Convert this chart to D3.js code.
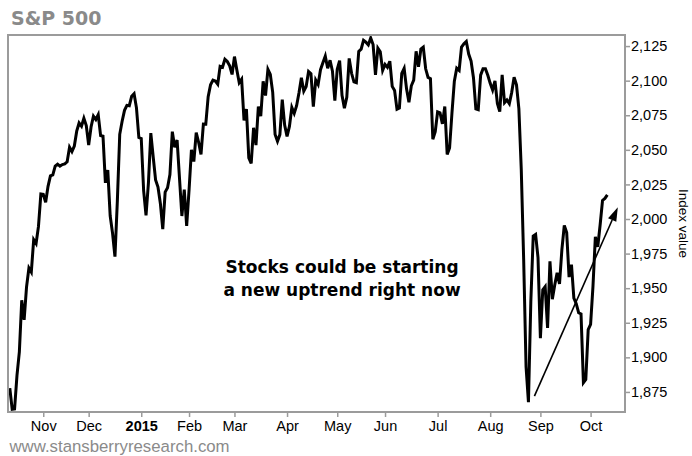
<!DOCTYPE html>
<html>
<head>
<meta charset="utf-8">
<script src="https://cdn.jsdelivr.net/npm/d3@7"></script>
<style>
  html, body { margin: 0; padding: 0; background: #fff; }
  svg { display: block; }
</style>
</head>
<body>
<svg id="chart" width="692" height="456"></svg>
<script>
// S&P 500 daily closes, one entry per trading session
const sessions = [
  "2014-10-14","2014-10-15","2014-10-16","2014-10-17","2014-10-20","2014-10-21","2014-10-22","2014-10-23","2014-10-24","2014-10-27","2014-10-28","2014-10-29","2014-10-30","2014-10-31",
  "2014-11-03","2014-11-04","2014-11-05","2014-11-06","2014-11-07","2014-11-10","2014-11-11","2014-11-12","2014-11-13","2014-11-14","2014-11-17","2014-11-18","2014-11-19","2014-11-20","2014-11-21","2014-11-24","2014-11-25","2014-11-26","2014-11-28",
  "2014-12-01","2014-12-02","2014-12-03","2014-12-04","2014-12-05","2014-12-08","2014-12-09","2014-12-10","2014-12-11","2014-12-12","2014-12-15","2014-12-16","2014-12-17","2014-12-18","2014-12-19","2014-12-22","2014-12-23","2014-12-24","2014-12-26","2014-12-29","2014-12-30","2014-12-31",
  "2015-01-02","2015-01-05","2015-01-06","2015-01-07","2015-01-08","2015-01-09","2015-01-12","2015-01-13","2015-01-14","2015-01-15","2015-01-16","2015-01-20","2015-01-21","2015-01-22","2015-01-23","2015-01-26","2015-01-27","2015-01-28","2015-01-29","2015-01-30",
  "2015-02-02","2015-02-03","2015-02-04","2015-02-05","2015-02-06","2015-02-09","2015-02-10","2015-02-11","2015-02-12","2015-02-13","2015-02-17","2015-02-18","2015-02-19","2015-02-20","2015-02-23","2015-02-24","2015-02-25","2015-02-26","2015-02-27",
  "2015-03-02","2015-03-03","2015-03-04","2015-03-05","2015-03-06","2015-03-09","2015-03-10","2015-03-11","2015-03-12","2015-03-13","2015-03-16","2015-03-17","2015-03-18","2015-03-19","2015-03-20","2015-03-23","2015-03-24","2015-03-25","2015-03-26","2015-03-27","2015-03-30","2015-03-31",
  "2015-04-01","2015-04-02","2015-04-06","2015-04-07","2015-04-08","2015-04-09","2015-04-10","2015-04-13","2015-04-14","2015-04-15","2015-04-16","2015-04-17","2015-04-20","2015-04-21","2015-04-22","2015-04-23","2015-04-24","2015-04-27","2015-04-28","2015-04-29","2015-04-30",
  "2015-05-01","2015-05-04","2015-05-05","2015-05-06","2015-05-07","2015-05-08","2015-05-11","2015-05-12","2015-05-13","2015-05-14","2015-05-15","2015-05-18","2015-05-19","2015-05-20","2015-05-21","2015-05-22","2015-05-26","2015-05-27","2015-05-28","2015-05-29",
  "2015-06-01","2015-06-02","2015-06-03","2015-06-04","2015-06-05","2015-06-08","2015-06-09","2015-06-10","2015-06-11","2015-06-12","2015-06-15","2015-06-16","2015-06-17","2015-06-18","2015-06-19","2015-06-22","2015-06-23","2015-06-24","2015-06-25","2015-06-26","2015-06-29","2015-06-30",
  "2015-07-01","2015-07-02","2015-07-06","2015-07-07","2015-07-08","2015-07-09","2015-07-10","2015-07-13","2015-07-14","2015-07-15","2015-07-16","2015-07-17","2015-07-20","2015-07-21","2015-07-22","2015-07-23","2015-07-24","2015-07-27","2015-07-28","2015-07-29","2015-07-30","2015-07-31",
  "2015-08-03","2015-08-04","2015-08-05","2015-08-06","2015-08-07","2015-08-10","2015-08-11","2015-08-12","2015-08-13","2015-08-14","2015-08-17","2015-08-18","2015-08-19","2015-08-20","2015-08-21","2015-08-24","2015-08-25","2015-08-26","2015-08-27","2015-08-28","2015-08-31",
  "2015-09-01","2015-09-02","2015-09-03","2015-09-04","2015-09-08","2015-09-09","2015-09-10","2015-09-11","2015-09-14","2015-09-15","2015-09-16","2015-09-17","2015-09-18","2015-09-21","2015-09-22","2015-09-23","2015-09-24","2015-09-25","2015-09-28","2015-09-29","2015-09-30",
  "2015-10-01","2015-10-02","2015-10-05","2015-10-06","2015-10-07","2015-10-08","2015-10-09","2015-10-12"
];

const closes = [
  1877.70,1862.49,1862.76,1886.76,1904.01,1941.28,1927.11,1950.82,1964.58,1961.63,1985.05,1982.30,1994.65,2018.05,
  2017.81,2012.10,2023.57,2031.21,2031.92,2038.26,2039.68,2038.25,2039.33,2039.82,2041.32,2051.80,2048.72,2052.75,2063.50,2069.41,2067.03,2072.83,2067.56,
  2053.44,2066.55,2074.33,2071.92,2075.37,2060.31,2059.82,2026.14,2035.33,2002.33,1989.63,1972.74,2012.89,2061.23,2070.65,2078.54,2082.17,2081.88,2088.77,2090.57,2080.35,2058.90,
  2058.20,2020.58,2002.61,2025.90,2062.14,2044.81,2028.26,2023.03,2011.27,1992.67,2019.42,2022.55,2032.12,2063.15,2051.82,2057.09,2029.55,2002.16,2021.25,1994.99,
  2020.85,2050.03,2041.51,2062.52,2055.47,2046.74,2068.59,2068.53,2088.48,2096.99,2100.34,2099.68,2097.45,2110.30,2109.66,2115.48,2113.86,2110.74,2104.50,
  2117.39,2107.78,2098.53,2101.04,2071.26,2079.43,2044.16,2040.24,2065.95,2053.40,2081.19,2074.28,2099.50,2089.27,2108.10,2104.42,2091.50,2061.05,2056.15,2061.02,2086.24,2067.89,
  2059.69,2066.96,2080.62,2076.33,2081.90,2091.18,2102.06,2092.43,2095.84,2106.63,2104.99,2081.18,2100.40,2097.29,2107.96,2112.93,2117.69,2108.92,2114.76,2106.85,2085.51,
  2108.29,2114.49,2089.46,2080.15,2088.00,2116.10,2105.33,2099.12,2098.48,2121.10,2122.73,2129.20,2127.83,2125.85,2130.82,2126.06,2104.20,2123.48,2120.79,2107.39,
  2111.73,2109.60,2114.07,2095.84,2092.83,2079.28,2080.15,2105.20,2108.86,2094.11,2084.43,2096.29,2100.44,2121.24,2109.99,2122.85,2124.20,2108.58,2102.31,2101.49,2057.64,2063.11,
  2077.42,2076.78,2068.76,2081.34,2046.68,2051.31,2076.62,2099.60,2108.95,2107.40,2124.29,2126.64,2128.28,2119.21,2114.15,2102.15,2079.65,2079.00,2104.00,2108.57,2108.63,2103.84,
  2098.04,2093.32,2099.84,2083.56,2077.57,2104.18,2084.07,2086.05,2083.39,2091.54,2102.44,2096.92,2079.61,2035.73,1970.89,1893.21,1867.61,1940.51,1987.66,1988.87,1972.18,
  1913.85,1948.86,1951.13,1921.22,1969.41,1942.04,1952.29,1961.05,1953.03,1978.09,1995.31,1990.20,1958.03,1966.97,1942.74,1938.76,1932.24,1931.34,1881.77,1884.09,1920.03,
  1923.82,1951.36,1987.05,1979.92,1995.83,2013.43,2014.89,2017.46
];

// Month ticks sit on the first session of each month
const monthStarts = ["2014-11-03","2014-12-01","2015-01-02","2015-02-02","2015-03-02","2015-04-01","2015-05-01","2015-06-01","2015-07-01","2015-08-03","2015-09-01","2015-10-01"];
const monthLabels = ["Nov","Dec","2015","Feb","Mar","Apr","May","Jun","Jul","Aug","Sep","Oct"];
const yTicks = [1875, 1900, 1925, 1950, 1975, 2000, 2025, 2050, 2075, 2100, 2125];

// Trend arrow, in (session index, index value)
const arrowFrom = [219.5, 1872];
const arrowTo = [254.4, 2008.5];

const noteLines = ["Stocks could be starting", "a new uptrend right now"];
const noteAnchor = [139, 1961];

const svg = d3.select("#chart");
const plot = { left: 8, top: 35, right: 625, bottom: 412 };
const frameColor = "#9b9b9b";

const x = d3.scaleLinear().domain([-0.75, 257.4]).range([plot.left, plot.right]);
const y = d3.scaleLinear().domain([1860.5, 2133]).range([plot.bottom, plot.top]);

const series = sessions.map((d, i) => ({ i, date: d, v: closes[i] }));

// Price line
svg.append("defs").append("clipPath").attr("id", "plotClip")
  .append("rect")
  .attr("x", plot.left).attr("y", plot.top)
  .attr("width", plot.right - plot.left).attr("height", plot.bottom - plot.top);

svg.append("path")
  .datum(series)
  .attr("clip-path", "url(#plotClip)")
  .attr("fill", "none")
  .attr("stroke", "#000")
  .attr("stroke-width", 3)
  .attr("stroke-linejoin", "miter")
  .attr("d", d3.line().x(d => x(d.i)).y(d => y(d.v)));

// Frame
svg.append("rect")
  .attr("x", plot.left).attr("y", plot.top)
  .attr("width", plot.right - plot.left).attr("height", plot.bottom - plot.top)
  .attr("fill", "none").attr("stroke", frameColor).attr("stroke-width", 2);

// Bottom axis: month ticks
const tickIdx = monthStarts.map(m => sessions.indexOf(m));
const xAxis = d3.axisBottom(x).tickValues(tickIdx).tickSize(5).tickPadding(4)
  .tickFormat((d, k) => monthLabels[k]);
const gx = svg.append("g").attr("transform", `translate(0,${plot.bottom})`).call(xAxis);
gx.select(".domain").remove();
gx.selectAll(".tick line").attr("stroke", frameColor).attr("stroke-width", 1.5);
gx.selectAll(".tick text")
  .attr("fill", "#000")
  .style("font-family", "'Liberation Sans', Arial, sans-serif")
  .style("font-size", "14.5px")
  .style("font-weight", d => monthLabels[tickIdx.indexOf(d)] === "2015" ? "bold" : "normal");

// Right axis: index value
const yAxis = d3.axisRight(y).tickValues(yTicks).tickSize(5).tickPadding(1)
  .tickFormat(d3.format(","));
const gy = svg.append("g").attr("transform", `translate(${plot.right},0)`).call(yAxis);
gy.select(".domain").remove();
gy.selectAll(".tick line").attr("stroke", frameColor).attr("stroke-width", 1.5);
gy.selectAll(".tick text")
  .attr("fill", "#000")
  .style("font-family", "'Liberation Sans', Arial, sans-serif")
  .style("font-size", "14.5px");

svg.append("text")
  .attr("transform", `translate(679,${(plot.top + plot.bottom) / 2}) rotate(90)`)
  .attr("text-anchor", "middle")
  .style("font-family", "'Liberation Sans', Arial, sans-serif")
  .style("font-size", "13.5px")
  .attr("fill", "#000")
  .text("Index value");

// Title and source line
svg.append("text")
  .attr("x", 11).attr("y", 25)
  .style("font-family", "'DejaVu Sans', Verdana, sans-serif")
  .style("font-weight", "bold")
  .style("font-size", "19px")
  .attr("fill", "#8a8a8a")
  .text("S&P 500");

svg.append("text")
  .attr("x", 9.5).attr("y", 452)
  .style("font-family", "'Liberation Sans', Arial, sans-serif")
  .style("font-size", "16.8px")
  .attr("fill", "#8a8a8a")
  .text("www.stansberryresearch.com");

// Annotation
const note = svg.append("text")
  .attr("text-anchor", "middle")
  .style("font-family", "'DejaVu Sans', Verdana, sans-serif")
  .style("font-weight", "bold")
  .style("font-size", "17px")
  .attr("fill", "#000");
noteLines.forEach((t, k) => {
  note.append("tspan")
    .attr("x", x(noteAnchor[0]))
    .attr("y", y(noteAnchor[1]) + k * 23)
    .text(t);
});

// Trend arrow
const ax0 = x(arrowFrom[0]), ay0 = y(arrowFrom[1]);
const ax1 = x(arrowTo[0]), ay1 = y(arrowTo[1]);
const ang = Math.atan2(ay1 - ay0, ax1 - ax0);
const headLen = 14, headHalf = 4.5;
const bx = ax1 - headLen * Math.cos(ang), by = ay1 - headLen * Math.sin(ang);
svg.append("line")
  .attr("x1", ax0).attr("y1", ay0).attr("x2", bx).attr("y2", by)
  .attr("stroke", "#000").attr("stroke-width", 1.6);
svg.append("path")
  .attr("d", d3.line()([
    [ax1, ay1],
    [bx + headHalf * Math.sin(ang), by - headHalf * Math.cos(ang)],
    [bx - headHalf * Math.sin(ang), by + headHalf * Math.cos(ang)]
  ]) + "Z")
  .attr("fill", "#000");
</script>
</body>
</html>
